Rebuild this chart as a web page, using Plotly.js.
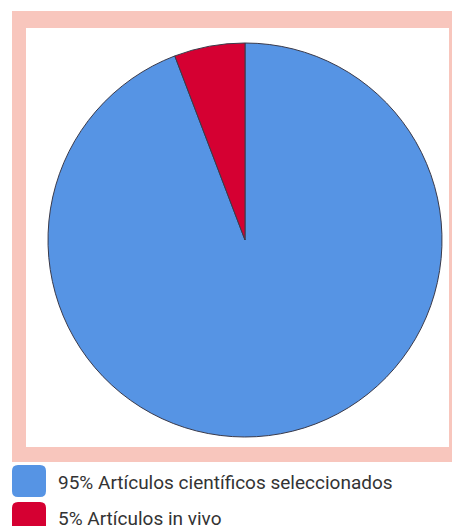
<!DOCTYPE html>
<html>
<head>
<meta charset="utf-8">
<script src="https://cdn.plot.ly/plotly-3.0.1.min.js"></script>
<style>html,body{margin:0;padding:0;background:#fff;}#chart{width:452px;height:526px;}</style>
</head>
<body>
<div id="chart"></div>
<script>
const labels = ["95% Artículos científicos seleccionados", "5% Artículos in vivo"];
const values = [94.2, 5.8];
const colors = ["#5694e4", "#d50032"];

const W = 452, H = 526;
const px = x => x / W;
const py = y => 1 - y / H;
function rr(x0, y0, x1, y1, r) {
  const p = (x, y) => px(x).toFixed(5) + "," + py(y).toFixed(5);
  return "M" + p(x0 + r, y0) + " L" + p(x1 - r, y0) + " Q" + p(x1, y0) + " " + p(x1, y0 + r) +
    " L" + p(x1, y1 - r) + " Q" + p(x1, y1) + " " + p(x1 - r, y1) +
    " L" + p(x0 + r, y1) + " Q" + p(x0, y1) + " " + p(x0, y1 - r) +
    " L" + p(x0, y0 + r) + " Q" + p(x0, y0) + " " + p(x0 + r, y0) + " Z";
}

const cx = 245, cy = 240, R = 197;

const shapes = [
  {type: "rect", xref: "paper", yref: "paper", x0: px(12), x1: px(452), y0: py(462), y1: py(11),
   fillcolor: "#f8c6bd", line: {width: 0}, layer: "below"},
  {type: "rect", xref: "paper", yref: "paper", x0: px(26), x1: px(449), y0: py(447), y1: py(28),
   fillcolor: "#ffffff", line: {width: 0}, layer: "below"}
];
const annotations = [];
const legTop = [465, 502];
const legTextY = [482.5, 518.5];
labels.forEach((lab, i) => {
  const t = legTop[i];
  shapes.push({type: "path", xref: "paper", yref: "paper", path: rr(12, t, 46, t + 32, 6),
    fillcolor: colors[i], line: {width: 0}});
  annotations.push({xref: "paper", yref: "paper", x: px(56), y: py(legTextY[i]), xanchor: "left", yanchor: "middle",
    text: lab, showarrow: false, font: {family: "Roboto", size: 19, color: "#333333"}});
});

const data = [{
  type: "pie",
  labels: labels,
  values: values,
  sort: false,
  direction: "clockwise",
  rotation: 0,
  marker: {colors: colors, line: {color: "#3a3a4a", width: 1}},
  textinfo: "none",
  hoverinfo: "none",
  showlegend: false,
  domain: {x: [px(cx - R), px(cx + R)], y: [py(cy + R), py(cy - R)]}
}];

const layout = {
  width: W, height: H,
  margin: {l: 0, r: 0, t: 0, b: 0},
  paper_bgcolor: "#ffffff",
  showlegend: false,
  shapes: shapes,
  annotations: annotations,
  font: {family: "Roboto"}
};

Plotly.newPlot("chart", data, layout, {displayModeBar: false, staticPlot: true});
</script>
</body>
</html>
